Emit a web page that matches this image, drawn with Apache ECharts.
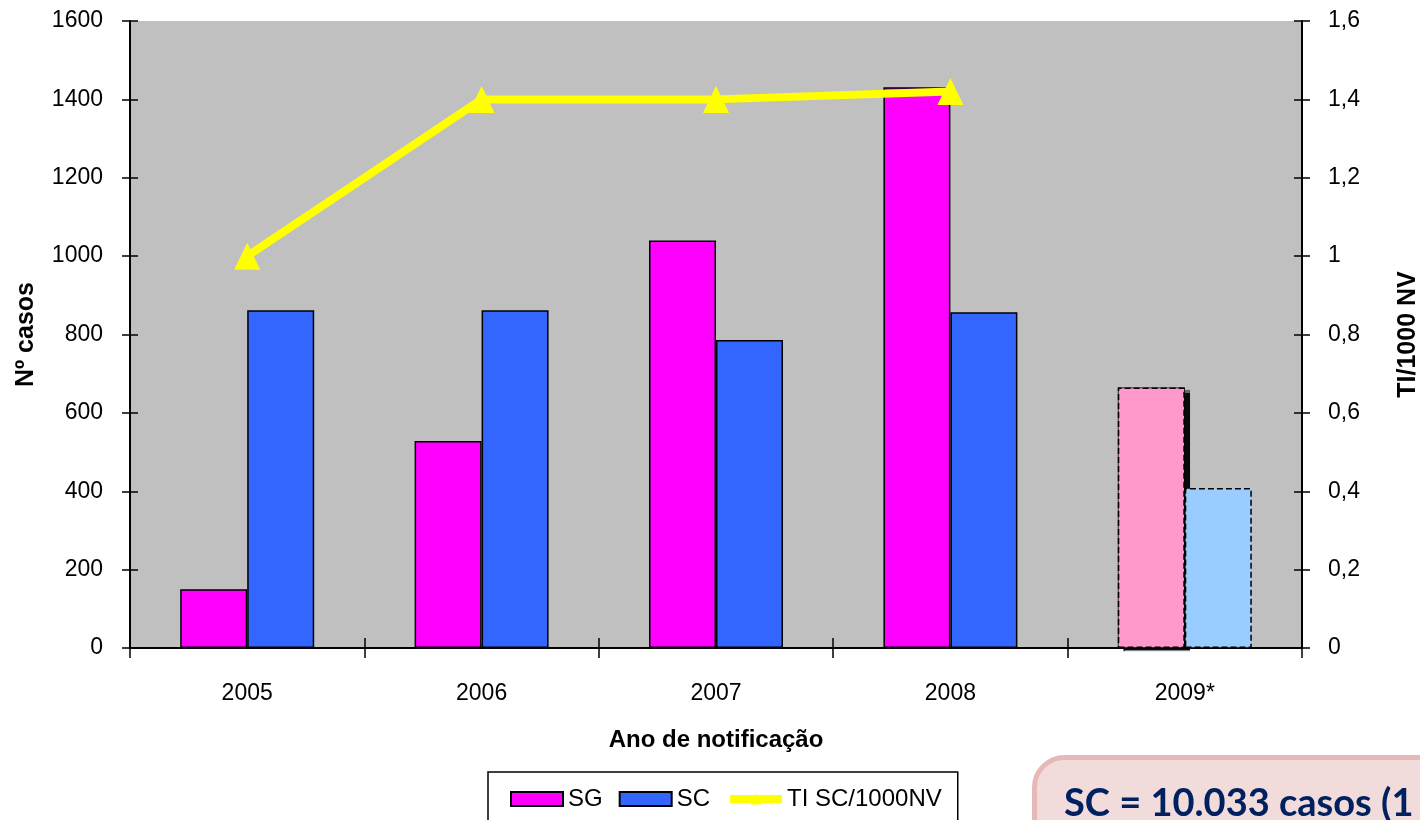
<!DOCTYPE html>
<html><head><meta charset="utf-8">
<script src="https://cdn.jsdelivr.net/npm/echarts@6/dist/echarts.min.js"></script>
<style>html,body{margin:0;padding:0;background:#fff}#c{width:1420px;height:820px}</style>
</head><body><div id="c"></div>
<script>
const categories = ['2005','2006','2007','2008','2009*'];
const sgValues = [150, 528, 1040, 1431, 665];
const scValues = [862, 862, 786, 857, 408];
const tiValues = [1.0, 1.4, 1.4, 1.42];
const leftTicks = {min:0, max:1600, interval:200};
const rightTicks = {min:0, max:1.6, interval:0.2};
const boxText = 'SC = 10.033 casos (1';

const FONT = '"Liberation Sans", Arial, sans-serif';
const lastIdx = categories.length - 1;
const sgData = sgValues.map((v,i)=> i===lastIdx ? {value:v, itemStyle:{color:'#ff99cc', borderType:'dashed', borderColor:'#000', borderWidth:1.5}} : v);
const scData = scValues.map((v,i)=> i===lastIdx ? {value:v, itemStyle:{color:'#99ccff', borderType:'dashed', borderColor:'#000', borderWidth:1.5}} : v);
// shadow behind the projected 2009 SG bar (drawn on the twin x axis)
const shadowData = sgValues.map((v,i)=> i===lastIdx ? v : '-');
const emptyData = sgValues.map(()=> '-');

const chart = echarts.init(document.getElementById('c'), null, {renderer:'canvas'});
const yFmt = v => String(v).replace('.', ',');
const lFmt = v => String(v);
chart.setOption({
  animation:false,
  backgroundColor:'#fff',
  grid:{left:130, right:118, top:21, bottom:172, show:true, backgroundColor:'#c0c0c0', borderWidth:0, containLabel:false, outerBoundsMode:'none'},
  xAxis:[
    {type:'category', data:categories, position:'bottom',
     axisLine:{lineStyle:{color:'#000', width:2}},
     axisTick:{show:true, inside:false, length:10, lineStyle:{color:'#000', width:1.5}},
     axisLabel:{color:'#000', fontSize:23, fontFamily:FONT, margin:34},
     name:'Ano de notificação', nameLocation:'middle', nameGap:80,
     nameTextStyle:{color:'#000', fontSize:24, fontWeight:'bold', fontFamily:FONT}},
    {type:'category', data:categories, position:'bottom', 
     axisLine:{show:false}, axisTick:{show:true, inside:true, length:10, lineStyle:{color:'#000', width:1.5}},
     axisLabel:{show:false}}
  ],
  yAxis:[
    {type:'value', position:'left', min:leftTicks.min, max:leftTicks.max, interval:leftTicks.interval,
     axisLine:{show:true, lineStyle:{color:'#000', width:2}},
     axisTick:{show:true, length:8, lineStyle:{color:'#000', width:1.5}},
     splitLine:{show:false},
     axisLabel:{color:'#000', fontSize:23, fontFamily:FONT, margin:27, formatter:lFmt},
     name:'Nº casos', nameLocation:'middle', nameGap:91, nameRotate:90,
     nameTextStyle:{color:'#000', fontSize:25, fontWeight:'bold', fontFamily:FONT}},
    {type:'value', position:'right', min:rightTicks.min, max:rightTicks.max, interval:rightTicks.interval,
     axisLine:{show:true, lineStyle:{color:'#000', width:2}},
     axisTick:{show:true, length:8, lineStyle:{color:'#000', width:1.5}},
     splitLine:{show:false},
     axisLabel:{color:'#000', fontSize:23, fontFamily:FONT, margin:26, formatter:yFmt},
     name:'TI/1000 NV', nameLocation:'middle', nameGap:94, nameRotate:90,
     nameTextStyle:{color:'#000', fontSize:25, fontWeight:'bold', fontFamily:FONT}},
    {type:'value', position:'left', min:leftTicks.min, max:leftTicks.max, interval:leftTicks.interval,
     axisLine:{show:false}, axisTick:{show:true, inside:true, length:8, lineStyle:{color:'#000', width:1.5}},
     axisLabel:{show:false}, splitLine:{show:false}},
    {type:'value', position:'right', min:rightTicks.min, max:rightTicks.max, interval:rightTicks.interval,
     axisLine:{show:false}, axisTick:{show:true, inside:true, length:8, lineStyle:{color:'#000', width:1.5}},
     axisLabel:{show:false}, splitLine:{show:false}}
  ],
  legend:{
    left:488, top:772, orient:'horizontal',
    padding:[15, 16, 40, 22],
    backgroundColor:'#fff', borderColor:'#000', borderWidth:1.5, borderRadius:0,
    itemWidth:52, itemHeight:14, itemGap:16,
    textStyle:{color:'#000', fontSize:24, fontFamily:FONT},
    data:[
      {name:'SG', icon:'rect', itemStyle:{borderColor:'#000', borderWidth:2}},
      {name:'SC', icon:'rect', itemStyle:{borderColor:'#000', borderWidth:2}},
      {name:'TI SC/1000NV', lineStyle:{width:8, color:'#ffff00'}}
    ]
  },
  series:[
    {name:'SG', type:'bar', xAxisIndex:0, yAxisIndex:0, data:sgData, barWidth:67, barGap:'0%', z:3,
     itemStyle:{color:'#ff00ff', borderColor:'#000', borderWidth:1.5}},
    {name:'SC', type:'bar', xAxisIndex:0, yAxisIndex:0, data:scData, barWidth:67, barGap:'0%', z:3,
     itemStyle:{color:'#3366ff', borderColor:'#000', borderWidth:1.5}},
    {name:'shadow', type:'bar', xAxisIndex:1, yAxisIndex:0, data:shadowData, barWidth:67, barGap:'0%', z:2,
     silent:true, legendHoverLink:false,
     itemStyle:{color:'#000', shadowColor:'rgba(0,0,0,0.95)', shadowOffsetX:5, shadowOffsetY:3, shadowBlur:1}},
    {name:'shadow2', type:'bar', xAxisIndex:1, yAxisIndex:0, data:emptyData, barWidth:67, barGap:'0%', z:2, silent:true},
    {name:'TI SC/1000NV', type:'line', xAxisIndex:0, yAxisIndex:1, data:tiValues,
     symbol:'triangle', symbolSize:[26,27], showAllSymbol:true,
     lineStyle:{color:'#ffff00', width:8}, itemStyle:{color:'#ffff00'}, z:5}
  ],
  graphic:[
    {type:'rect', left:1032, top:755, shape:{width:520, height:160, r:30},
     style:{fill:'#f2dcdb', stroke:'#e6b9b8', lineWidth:5}, z:10},
    {type:'text', left:1064, top:785, z:11,
     style:{text:boxText, fill:'#002060', font:'bold 38px Lato, "Open Sans", sans-serif'}}
  ]
});
</script></body></html>
